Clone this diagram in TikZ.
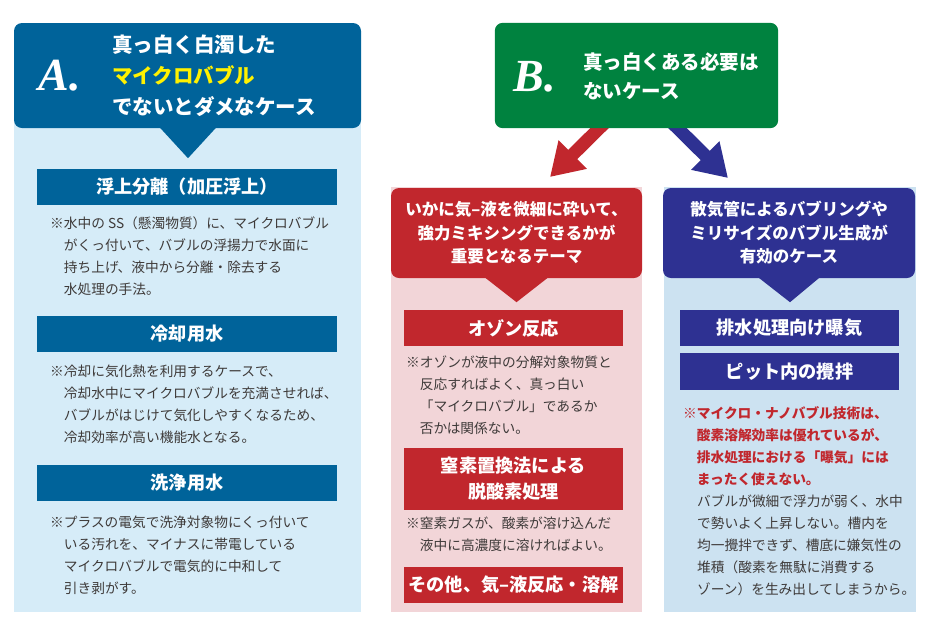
\documentclass[tikz,border=0pt]{standalone}
\usepackage{fontspec}
\setmainfont{Noto Sans CJK JP}
\newfontfamily\letterfont{Liberation Serif}
\usepackage{xcolor}
\usepackage{tikz}
\usetikzlibrary{arrows.meta,positioning,calc}
\definecolor{adeep}{RGB}{0,99,154}
\definecolor{alight}{RGB}{214,236,248}
\definecolor{bgreen}{RGB}{0,130,63}
\definecolor{rdeep}{RGB}{193,39,45}
\definecolor{rlight}{RGB}{242,213,216}
\definecolor{ndeep}{RGB}{46,49,146}
\definecolor{nlight}{RGB}{204,226,241}
\definecolor{hiyellow}{RGB}{255,241,0}
\definecolor{bodygray}{RGB}{62,58,57}

\begin{document}
\begin{tikzpicture}[x=1pt, y=-1pt,
  headbox/.style={rounded corners=8pt, inner sep=0pt, minimum height=105pt},
  casehead/.style={rounded corners=8pt, inner sep=0pt, minimum height=90pt, text=white, align=center, font=\fontsize{16.5}{23.5}\selectfont\bfseries},
  barbox/.style={inner sep=0pt, text=white, align=center, font=\fontsize{18.2}{26}\selectfont\bfseries},
  note/.style={inner sep=0pt, anchor=base west, align=left, text=bodygray, font=\fontsize{13.7}{22}\selectfont},
  letter/.style={inner sep=0pt, text=white, font=\fontsize{46}{46}\selectfont\letterfont\bfseries\itshape},
  bigarrow/.style={line width=13pt, -{Triangle[length=32pt,width=38pt]}}
]
\useasboundingbox (0,0) rectangle (935,638);

% panel backgrounds
\fill[alight] (14,110) rectangle (361,612);
\fill[rlight] (391,187) rectangle (642,612);
\fill[nlight] (664,187) rectangle (916,612);

% A
\node[headbox, fill=adeep, minimum width=347pt] (ahead) at (187.5,75.5) {};
\fill[adeep] ($(ahead.south)+(-28,-1)$) -- ($(ahead.south)+(0.5,30)$) -- ($(ahead.south)+(29,-1)$) -- cycle;
\node[letter] (aletter) at (60,76) {A.};
\node[inner sep=0pt, anchor=west, align=left, text=white, font=\fontsize{20.5}{31}\selectfont\bfseries] (atitle) at (112,76)
  {真っ白く白濁した\\{\color{hiyellow}マイクロバブル}\\でないとダメなケース};

% notes are placed by the baseline of their last line
\node[barbox, fill=adeep, minimum width=300pt, minimum height=36pt] (abar1) at (187,187) {浮上分離（加圧浮上）};
\node[note] (anote1) at (50,294)
  {※水中の SS（懸濁物質）に、マイクロバブル\\\quad がくっ付いて、バブルの浮揚力で水面に\\\quad 持ち上げ、液中から分離・除去する\\\quad 水処理の手法。};

\node[barbox, fill=adeep, minimum width=300pt, minimum height=36pt] (abar2) at (187,334) {冷却用水};
\node[note] (anote2) at (50,442)
  {※冷却に気化熱を利用するケースで、\\\quad 冷却水中にマイクロバブルを充満させれば、\\\quad バブルがはじけて気化しやすくなるため、\\\quad 冷却効率が高い機能水となる。};

\node[barbox, fill=adeep, minimum width=300pt, minimum height=36pt] (abar3) at (187,483) {洗浄用水};
\node[note] (anote3) at (50,593)
  {※プラスの電気で洗浄対象物にくっ付いて\\\quad いる汚れを、マイナスに帯電している\\\quad マイクロバブルで電気的に中和して\\\quad 引き剥がす。};

% B
\coordinate (rtip) at (550,177);
\coordinate (ntip) at (728,178);
\node[headbox, minimum width=283pt] (bhead) at (636.5,75.5) {};
\draw[bigarrow, rdeep] ([xshift=-22pt, yshift=15pt]bhead.south) -- (rtip);
\draw[bigarrow, ndeep] ([xshift=26pt, yshift=15pt]bhead.south) -- (ntip);
\fill[bgreen, rounded corners=8pt] (bhead.south west) rectangle (bhead.north east);
\node[letter] (bletter) at (535,77) {B.};
\node[inner sep=0pt, anchor=west, align=left, text=white, font=\fontsize{19.5}{29}\selectfont\bfseries] (btitle) at (583,76)
  {真っ白くある必要は\\ないケース};

% red side
\node[casehead, fill=rdeep, minimum width=251pt] (rhead) at (516.5,233)
  {いかに気–液を微細に砕いて、\\強力ミキシングできるかが\\重要となるテーマ};
\fill[rdeep] ($(rhead.south)+(-32,-1)$) -- ($(rhead.south)+(0,24)$) -- ($(rhead.south)+(32,-1)$) -- cycle;
\node[barbox, fill=rdeep, minimum width=219pt, minimum height=36pt] (rbar1) at (513.5,328) {オゾン反応};
\node[note] (rnote1) at (406,433)
  {※オゾンが液中の分解対象物質と\\\quad 反応すればよく、真っ白い\\\quad「マイクロバブル」であるか\\\quad 否かは関係ない。};
\node[barbox, fill=rdeep, minimum width=219pt, minimum height=62pt] (rbar2) at (513.5,479) {窒素置換法による\\脱酸素処理};
\node[note] (rnote2) at (406,550)
  {※窒素ガスが、酸素が溶け込んだ\\\quad 液中に高濃度に溶ければよい。};
\node[barbox, fill=rdeep, minimum width=219pt, minimum height=36pt] (rbar3) at (513.5,585) {その他、気–液反応・溶解};

% navy side
\node[casehead, fill=ndeep, minimum width=252pt] (nhead) at (789,233)
  {散気管によるバブリングや\\ミリサイズのバブル生成が\\有効のケース};
\fill[ndeep] ($(nhead.south)+(-31,-1)$) -- ($(nhead.south)+(1,24)$) -- ($(nhead.south)+(31,-1)$) -- cycle;
\node[barbox, fill=ndeep, minimum width=219pt, minimum height=36pt] (nbar1) at (789.5,328) {排水処理向け曝気};
\node[barbox, fill=ndeep, minimum width=219pt, minimum height=37pt] (nbar2) at (789.5,371.5) {ピット内の攪拌};
\node[note, text=rdeep, font=\fontsize{13.7}{22}\selectfont\bfseries] (nwarn) at (683,484)
  {※マイクロ・ナノバブル技術は、\\\quad 酸素溶解効率は優れているが、\\\quad 排水処理における「曝気」には\\\quad まったく使えない。};
\node[note] (nnote) at (697,594)
  {バブルが微細で浮力が弱く、水中\\で勢いよく上昇しない。槽内を\\均一攪拌できず、槽底に嫌気性の\\堆積（酸素を無駄に消費する\\ゾーン）を生み出してしまうから。};
\end{tikzpicture}
\end{document}
